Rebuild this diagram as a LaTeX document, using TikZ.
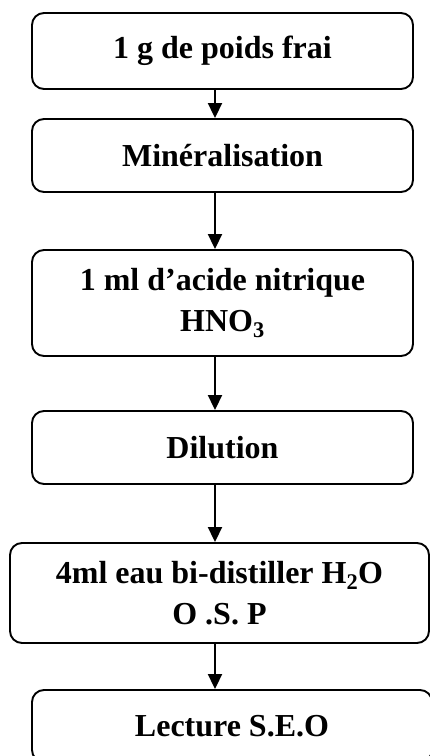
\documentclass[tikz,border=0pt]{standalone}
\usepackage{fontspec}
\setmainfont{Liberation Serif}
\usetikzlibrary{arrows.meta}
\begin{document}
\begin{tikzpicture}[x=1pt,y=-1pt,
  etape/.style={draw,line width=1.9pt,rounded corners=12pt,inner sep=0pt,
    align=center,font=\bfseries\fontsize{32}{41}\selectfont},
  fleche/.style={line width=1.9pt,-{Triangle[length=15pt,width=14pt]}}]
\useasboundingbox (0,0) rectangle (430,756);
% boxes
\node[etape,minimum width=381,minimum height=76] (poids) at (222.5,51) {1 g de poids frai};
\node[etape,minimum width=381,minimum height=73] (miner) at (222.5,155.5) {Minéralisation};
\node[etape,minimum width=381,minimum height=106] (acide) at (222.5,303) {1 ml d’acide nitrique\\HNO\textsubscript{3}};
\node[etape,minimum width=381,minimum height=73] (dilu) at (222.5,447.5) {Dilution};
\node[etape,minimum width=419,minimum height=100] (eau) at (219.5,593) {4ml eau bi-distiller H\textsubscript{2}O\\O .S. P};
\node[etape,minimum width=400,minimum height=72] (lect) at (232,726) {Lecture S.E.O};
% arrows
\coordinate (axe) at (215,0);
\draw[fleche] (poids.south -| axe) -- (miner.north -| axe);
\draw[fleche] (miner.south -| axe) -- (acide.north -| axe);
\draw[fleche] (acide.south -| axe) -- (dilu.north -| axe);
\draw[fleche] (dilu.south -| axe) -- (eau.north -| axe);
\draw[fleche] (eau.south -| axe) -- (lect.north -| axe);
\end{tikzpicture}
\end{document}
